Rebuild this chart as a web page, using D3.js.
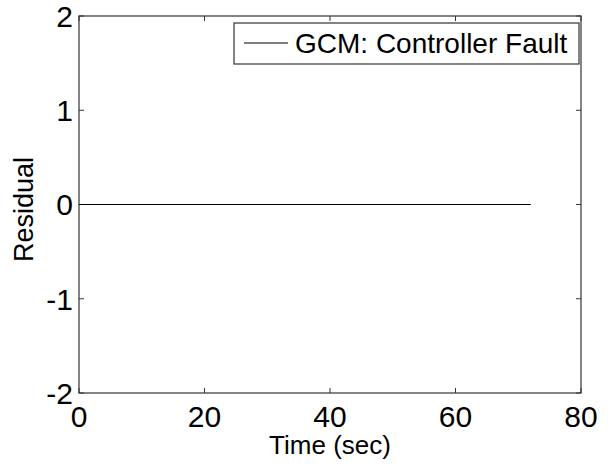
<!DOCTYPE html>
<html>
<head>
<meta charset="utf-8">
<script src="https://cdn.jsdelivr.net/npm/d3@7"></script>
<style>
  body { margin: 0; background: #fff; }
  text { font-family: "Liberation Sans", Arial, sans-serif; fill: #000; }
</style>
</head>
<body>
<div id="chart"></div>
<script>
// residual signal (all zero for the controller fault case)
let time = [0, 10, 20, 30, 40, 50, 60, 72];
let residual = [0, 0, 0, 0, 0, 0, 0, 0];
let xTicks = [0, 20, 40, 60, 80];
let yTicks = [-2, -1, 0, 1, 2];
let legendLabel = "GCM: Controller Fault";

let width = 612, height = 469;
let margin = {top: 16, right: 31, bottom: 76, left: 79};
let w = width - margin.left - margin.right;
let h = height - margin.top - margin.bottom;

let svg = d3.select("#chart").append("svg")
    .attr("width", width)
    .attr("height", height);

let g = svg.append("g")
    .attr("transform", "translate(" + margin.left + "," + margin.top + ")");

let x = d3.scaleLinear().domain([0, 80]).range([0, w]);
let y = d3.scaleLinear().domain([-2, 2]).range([h, 0]);

let axisColor = "#333";

// box
g.append("rect")
    .attr("width", w)
    .attr("height", h)
    .attr("fill", "none")
    .attr("stroke", axisColor)
    .attr("stroke-width", 1.2);

// inward ticks on all four sides
let tickLen = 5;
xTicks.forEach((t) => {
    g.append("line").attr("x1", x(t)).attr("x2", x(t))
        .attr("y1", h).attr("y2", h - tickLen).attr("stroke", axisColor);
    g.append("line").attr("x1", x(t)).attr("x2", x(t))
        .attr("y1", 0).attr("y2", tickLen).attr("stroke", axisColor);
    g.append("text")
        .attr("x", x(t))
        .attr("y", h + 34)
        .attr("text-anchor", "middle")
        .style("font-size", "30px")
        .text(t);
});
yTicks.forEach((t) => {
    g.append("line").attr("x1", 0).attr("x2", tickLen)
        .attr("y1", y(t)).attr("y2", y(t)).attr("stroke", axisColor);
    g.append("line").attr("x1", w).attr("x2", w - tickLen)
        .attr("y1", y(t)).attr("y2", y(t)).attr("stroke", axisColor);
    g.append("text")
        .attr("x", -6)
        .attr("y", y(t))
        .attr("dy", "0.36em")
        .attr("text-anchor", "end")
        .style("font-size", "30px")
        .text(t);
});

// axis labels
g.append("text")
    .attr("x", w / 2)
    .attr("y", h + 61)
    .attr("text-anchor", "middle")
    .style("font-size", "26px")
    .text("Time (sec)");

g.append("text")
    .attr("transform", "translate(" + (-46) + "," + (h / 2 + 5) + ") rotate(-90)")
    .attr("text-anchor", "middle")
    .style("font-size", "27px")
    .text("Residual");

// data line
let line = d3.line()
    .x((d, i) => x(time[i]))
    .y((d) => y(d));

g.append("path")
    .datum(residual)
    .attr("fill", "none")
    .attr("stroke", "black")
    .attr("stroke-width", 1.2)
    .attr("d", line);

// legend
let legend = g.append("g").attr("transform", "translate(" + (w - 347) + ",7)");
legend.append("rect")
    .attr("width", 345)
    .attr("height", 41)
    .attr("fill", "white")
    .attr("stroke", axisColor)
    .attr("stroke-width", 1.2);
legend.append("line")
    .attr("x1", 10).attr("x2", 54)
    .attr("y1", 20).attr("y2", 20)
    .attr("stroke", "black")
    .attr("stroke-width", 1.2);
legend.append("text")
    .attr("x", 61)
    .attr("y", 30)
    .style("font-size", "28px")
    .text(legendLabel);
</script>
</body>
</html>
